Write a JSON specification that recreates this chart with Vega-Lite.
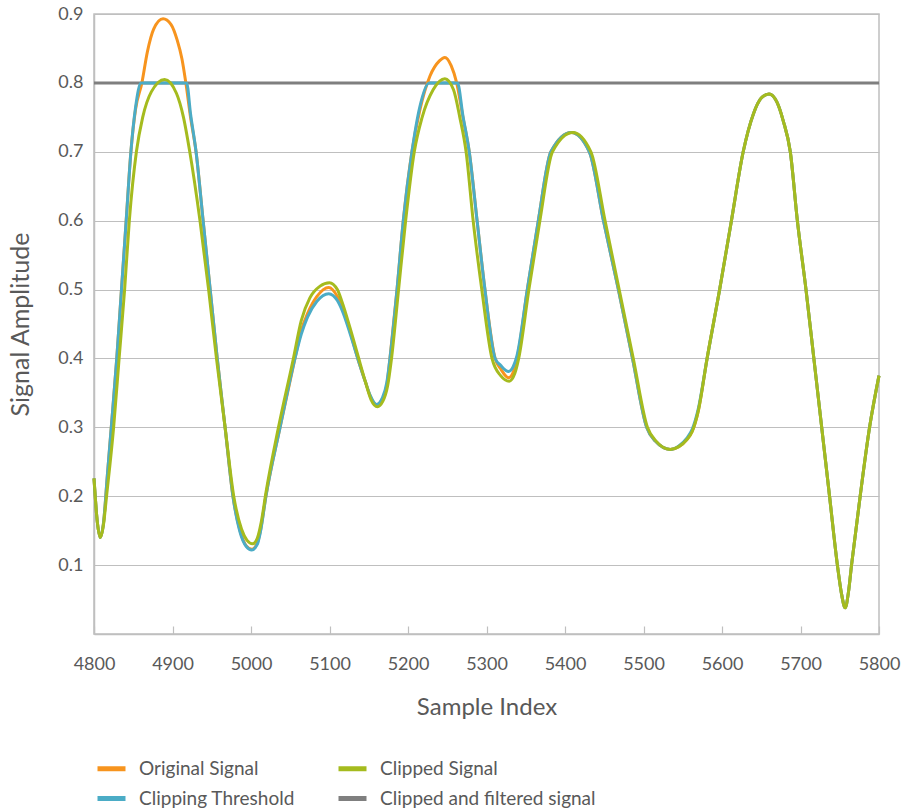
{
  "$schema": "https://vega.github.io/schema/vega-lite/v6.json",
  "autosize": {"type": "none"},
  "width": 785,
  "height": 620,
  "padding": {"left": 94, "top": 14, "right": 22, "bottom": 177},
  "background": "white",
  "config": {
    "font": "Lato",
    "view": {"stroke": "#BFBFBF", "strokeWidth": 1.5},
    "axis": {"labelFont": "Lato", "titleFont": "Lato", "labelColor": "#595959", "titleColor": "#595959", "labelFontSize": 18, "titleFontSize": 24, "titleFontWeight": "normal", "domainColor": "#BFBFBF", "domainWidth": 1.5, "gridColor": "#BFBFBF", "gridWidth": 1.2, "tickColor": "#BFBFBF"},
    "legend": {"labelFont": "Lato", "labelColor": "#595959", "labelFontSize": 19, "labelLimit": 400}
  },
  "data": {"values": [
    {"s":"Clipped and filtered signal","i":4800,"v":0.8},
    {"s":"Clipped and filtered signal","i":5800,"v":0.8},

    {"s":"Original Signal","i":4800,"v":0.226},
    {"s":"Original Signal","i":4804,"v":0.165},
    {"s":"Original Signal","i":4808,"v":0.140},
    {"s":"Original Signal","i":4812,"v":0.160},
    {"s":"Original Signal","i":4817,"v":0.230},
    {"s":"Original Signal","i":4822,"v":0.300},
    {"s":"Original Signal","i":4829,"v":0.400},
    {"s":"Original Signal","i":4835,"v":0.500},
    {"s":"Original Signal","i":4841,"v":0.600},
    {"s":"Original Signal","i":4847,"v":0.700},
    {"s":"Original Signal","i":4853,"v":0.762},
    {"s":"Original Signal","i":4861,"v":0.800},
    {"s":"Original Signal","i":4868,"v":0.845},
    {"s":"Original Signal","i":4876,"v":0.878},
    {"s":"Original Signal","i":4888,"v":0.893},
    {"s":"Original Signal","i":4898,"v":0.885},
    {"s":"Original Signal","i":4906,"v":0.862},
    {"s":"Original Signal","i":4912,"v":0.835},
    {"s":"Original Signal","i":4917,"v":0.800},
    {"s":"Original Signal","i":4923,"v":0.750},
    {"s":"Original Signal","i":4930,"v":0.700},
    {"s":"Original Signal","i":4939,"v":0.600},
    {"s":"Original Signal","i":4948,"v":0.500},
    {"s":"Original Signal","i":4957,"v":0.400},
    {"s":"Original Signal","i":4967,"v":0.300},
    {"s":"Original Signal","i":4977,"v":0.200},
    {"s":"Original Signal","i":4986,"v":0.150},
    {"s":"Original Signal","i":4994,"v":0.128},
    {"s":"Original Signal","i":5001,"v":0.123},
    {"s":"Original Signal","i":5008,"v":0.132},
    {"s":"Original Signal","i":5012,"v":0.150},
    {"s":"Original Signal","i":5019,"v":0.200},
    {"s":"Original Signal","i":5037,"v":0.300},
    {"s":"Original Signal","i":5056,"v":0.400},
    {"s":"Original Signal","i":5064,"v":0.440},
    {"s":"Original Signal","i":5072,"v":0.465},
    {"s":"Original Signal","i":5084,"v":0.490},
    {"s":"Original Signal","i":5099,"v":0.503},
    {"s":"Original Signal","i":5110,"v":0.490},
    {"s":"Original Signal","i":5116,"v":0.475},
    {"s":"Original Signal","i":5126,"v":0.440},
    {"s":"Original Signal","i":5136,"v":0.400},
    {"s":"Original Signal","i":5146,"v":0.365},
    {"s":"Original Signal","i":5152,"v":0.345},
    {"s":"Original Signal","i":5160,"v":0.333},
    {"s":"Original Signal","i":5167,"v":0.340},
    {"s":"Original Signal","i":5173,"v":0.361},
    {"s":"Original Signal","i":5177,"v":0.400},
    {"s":"Original Signal","i":5186,"v":0.500},
    {"s":"Original Signal","i":5194,"v":0.600},
    {"s":"Original Signal","i":5205,"v":0.700},
    {"s":"Original Signal","i":5215,"v":0.760},
    {"s":"Original Signal","i":5228,"v":0.810},
    {"s":"Original Signal","i":5240,"v":0.832},
    {"s":"Original Signal","i":5247,"v":0.837},
    {"s":"Original Signal","i":5255,"v":0.825},
    {"s":"Original Signal","i":5262,"v":0.800},
    {"s":"Original Signal","i":5270,"v":0.750},
    {"s":"Original Signal","i":5278,"v":0.700},
    {"s":"Original Signal","i":5288,"v":0.600},
    {"s":"Original Signal","i":5298,"v":0.500},
    {"s":"Original Signal","i":5311,"v":0.400},
    {"s":"Original Signal","i":5318,"v":0.385},
    {"s":"Original Signal","i":5328,"v":0.372},
    {"s":"Original Signal","i":5334,"v":0.380},
    {"s":"Original Signal","i":5339,"v":0.400},
    {"s":"Original Signal","i":5352,"v":0.500},
    {"s":"Original Signal","i":5366,"v":0.600},
    {"s":"Original Signal","i":5382,"v":0.700},
    {"s":"Original Signal","i":5408,"v":0.728},
    {"s":"Original Signal","i":5431,"v":0.700},
    {"s":"Original Signal","i":5449,"v":0.600},
    {"s":"Original Signal","i":5468,"v":0.500},
    {"s":"Original Signal","i":5486,"v":0.400},
    {"s":"Original Signal","i":5504,"v":0.300},
    {"s":"Original Signal","i":5515,"v":0.280},
    {"s":"Original Signal","i":5534,"v":0.268},
    {"s":"Original Signal","i":5545,"v":0.272},
    {"s":"Original Signal","i":5555,"v":0.282},
    {"s":"Original Signal","i":5562,"v":0.294},
    {"s":"Original Signal","i":5570,"v":0.325},
    {"s":"Original Signal","i":5581,"v":0.400},
    {"s":"Original Signal","i":5597,"v":0.500},
    {"s":"Original Signal","i":5612,"v":0.600},
    {"s":"Original Signal","i":5627,"v":0.700},
    {"s":"Original Signal","i":5640,"v":0.755},
    {"s":"Original Signal","i":5650,"v":0.778},
    {"s":"Original Signal","i":5660,"v":0.784},
    {"s":"Original Signal","i":5670,"v":0.772},
    {"s":"Original Signal","i":5678,"v":0.745},
    {"s":"Original Signal","i":5687,"v":0.700},
    {"s":"Original Signal","i":5696,"v":0.600},
    {"s":"Original Signal","i":5707,"v":0.500},
    {"s":"Original Signal","i":5717,"v":0.400},
    {"s":"Original Signal","i":5727,"v":0.300},
    {"s":"Original Signal","i":5737,"v":0.200},
    {"s":"Original Signal","i":5747,"v":0.100},
    {"s":"Original Signal","i":5752,"v":0.060},
    {"s":"Original Signal","i":5757,"v":0.038},
    {"s":"Original Signal","i":5761,"v":0.060},
    {"s":"Original Signal","i":5765,"v":0.100},
    {"s":"Original Signal","i":5776,"v":0.200},
    {"s":"Original Signal","i":5788,"v":0.300},
    {"s":"Original Signal","i":5800,"v":0.375},

    {"s":"Clipping Threshold","i":4800,"v":0.226},
    {"s":"Clipping Threshold","i":4804,"v":0.165},
    {"s":"Clipping Threshold","i":4808,"v":0.140},
    {"s":"Clipping Threshold","i":4812,"v":0.160},
    {"s":"Clipping Threshold","i":4817,"v":0.230},
    {"s":"Clipping Threshold","i":4822,"v":0.300},
    {"s":"Clipping Threshold","i":4829,"v":0.400},
    {"s":"Clipping Threshold","i":4835,"v":0.500},
    {"s":"Clipping Threshold","i":4841,"v":0.600},
    {"s":"Clipping Threshold","i":4847,"v":0.700},
    {"s":"Clipping Threshold","i":4853,"v":0.765},
    {"s":"Clipping Threshold","i":4860,"v":0.800},
    {"s":"Clipping Threshold","i":4918,"v":0.800},
    {"s":"Clipping Threshold","i":4923,"v":0.755},
    {"s":"Clipping Threshold","i":4930,"v":0.700},
    {"s":"Clipping Threshold","i":4939,"v":0.600},
    {"s":"Clipping Threshold","i":4948,"v":0.500},
    {"s":"Clipping Threshold","i":4957,"v":0.400},
    {"s":"Clipping Threshold","i":4967,"v":0.300},
    {"s":"Clipping Threshold","i":4977,"v":0.200},
    {"s":"Clipping Threshold","i":4986,"v":0.148},
    {"s":"Clipping Threshold","i":4994,"v":0.127},
    {"s":"Clipping Threshold","i":5001,"v":0.122},
    {"s":"Clipping Threshold","i":5008,"v":0.130},
    {"s":"Clipping Threshold","i":5012,"v":0.148},
    {"s":"Clipping Threshold","i":5019,"v":0.200},
    {"s":"Clipping Threshold","i":5037,"v":0.300},
    {"s":"Clipping Threshold","i":5056,"v":0.400},
    {"s":"Clipping Threshold","i":5064,"v":0.435},
    {"s":"Clipping Threshold","i":5072,"v":0.460},
    {"s":"Clipping Threshold","i":5084,"v":0.483},
    {"s":"Clipping Threshold","i":5099,"v":0.494},
    {"s":"Clipping Threshold","i":5110,"v":0.484},
    {"s":"Clipping Threshold","i":5116,"v":0.470},
    {"s":"Clipping Threshold","i":5126,"v":0.437},
    {"s":"Clipping Threshold","i":5136,"v":0.400},
    {"s":"Clipping Threshold","i":5146,"v":0.365},
    {"s":"Clipping Threshold","i":5152,"v":0.346},
    {"s":"Clipping Threshold","i":5160,"v":0.333},
    {"s":"Clipping Threshold","i":5167,"v":0.342},
    {"s":"Clipping Threshold","i":5173,"v":0.365},
    {"s":"Clipping Threshold","i":5177,"v":0.400},
    {"s":"Clipping Threshold","i":5186,"v":0.500},
    {"s":"Clipping Threshold","i":5194,"v":0.600},
    {"s":"Clipping Threshold","i":5205,"v":0.700},
    {"s":"Clipping Threshold","i":5215,"v":0.765},
    {"s":"Clipping Threshold","i":5227,"v":0.800},
    {"s":"Clipping Threshold","i":5263,"v":0.800},
    {"s":"Clipping Threshold","i":5270,"v":0.752},
    {"s":"Clipping Threshold","i":5278,"v":0.700},
    {"s":"Clipping Threshold","i":5288,"v":0.600},
    {"s":"Clipping Threshold","i":5298,"v":0.500},
    {"s":"Clipping Threshold","i":5311,"v":0.400},
    {"s":"Clipping Threshold","i":5318,"v":0.390},
    {"s":"Clipping Threshold","i":5328,"v":0.381},
    {"s":"Clipping Threshold","i":5334,"v":0.388},
    {"s":"Clipping Threshold","i":5339,"v":0.405},
    {"s":"Clipping Threshold","i":5352,"v":0.500},
    {"s":"Clipping Threshold","i":5366,"v":0.600},
    {"s":"Clipping Threshold","i":5382,"v":0.700},
    {"s":"Clipping Threshold","i":5408,"v":0.728},
    {"s":"Clipping Threshold","i":5431,"v":0.700},
    {"s":"Clipping Threshold","i":5449,"v":0.600},
    {"s":"Clipping Threshold","i":5468,"v":0.500},
    {"s":"Clipping Threshold","i":5486,"v":0.400},
    {"s":"Clipping Threshold","i":5504,"v":0.300},
    {"s":"Clipping Threshold","i":5515,"v":0.280},
    {"s":"Clipping Threshold","i":5534,"v":0.268},
    {"s":"Clipping Threshold","i":5545,"v":0.273},
    {"s":"Clipping Threshold","i":5555,"v":0.284},
    {"s":"Clipping Threshold","i":5562,"v":0.297},
    {"s":"Clipping Threshold","i":5570,"v":0.328},
    {"s":"Clipping Threshold","i":5581,"v":0.400},
    {"s":"Clipping Threshold","i":5597,"v":0.500},
    {"s":"Clipping Threshold","i":5612,"v":0.600},
    {"s":"Clipping Threshold","i":5627,"v":0.700},
    {"s":"Clipping Threshold","i":5640,"v":0.755},
    {"s":"Clipping Threshold","i":5650,"v":0.778},
    {"s":"Clipping Threshold","i":5660,"v":0.784},
    {"s":"Clipping Threshold","i":5670,"v":0.772},
    {"s":"Clipping Threshold","i":5678,"v":0.745},
    {"s":"Clipping Threshold","i":5687,"v":0.700},
    {"s":"Clipping Threshold","i":5696,"v":0.600},
    {"s":"Clipping Threshold","i":5707,"v":0.500},
    {"s":"Clipping Threshold","i":5717,"v":0.400},
    {"s":"Clipping Threshold","i":5727,"v":0.300},
    {"s":"Clipping Threshold","i":5737,"v":0.200},
    {"s":"Clipping Threshold","i":5747,"v":0.100},
    {"s":"Clipping Threshold","i":5752,"v":0.060},
    {"s":"Clipping Threshold","i":5757,"v":0.038},
    {"s":"Clipping Threshold","i":5761,"v":0.060},
    {"s":"Clipping Threshold","i":5765,"v":0.100},
    {"s":"Clipping Threshold","i":5776,"v":0.200},
    {"s":"Clipping Threshold","i":5788,"v":0.300},
    {"s":"Clipping Threshold","i":5800,"v":0.375},

    {"s":"Clipped Signal","i":4800,"v":0.226},
    {"s":"Clipped Signal","i":4804,"v":0.165},
    {"s":"Clipped Signal","i":4808,"v":0.140},
    {"s":"Clipped Signal","i":4812,"v":0.158},
    {"s":"Clipped Signal","i":4816,"v":0.200},
    {"s":"Clipped Signal","i":4825,"v":0.300},
    {"s":"Clipped Signal","i":4832,"v":0.400},
    {"s":"Clipped Signal","i":4839,"v":0.500},
    {"s":"Clipped Signal","i":4845,"v":0.600},
    {"s":"Clipped Signal","i":4854,"v":0.700},
    {"s":"Clipped Signal","i":4862,"v":0.750},
    {"s":"Clipped Signal","i":4873,"v":0.787},
    {"s":"Clipped Signal","i":4890,"v":0.805},
    {"s":"Clipped Signal","i":4905,"v":0.785},
    {"s":"Clipped Signal","i":4914,"v":0.750},
    {"s":"Clipped Signal","i":4922,"v":0.700},
    {"s":"Clipped Signal","i":4935,"v":0.600},
    {"s":"Clipped Signal","i":4946,"v":0.500},
    {"s":"Clipped Signal","i":4956,"v":0.400},
    {"s":"Clipped Signal","i":4967,"v":0.300},
    {"s":"Clipped Signal","i":4978,"v":0.200},
    {"s":"Clipped Signal","i":4988,"v":0.152},
    {"s":"Clipped Signal","i":4995,"v":0.136},
    {"s":"Clipped Signal","i":5002,"v":0.131},
    {"s":"Clipped Signal","i":5008,"v":0.139},
    {"s":"Clipped Signal","i":5013,"v":0.162},
    {"s":"Clipped Signal","i":5019,"v":0.205},
    {"s":"Clipped Signal","i":5035,"v":0.300},
    {"s":"Clipped Signal","i":5054,"v":0.400},
    {"s":"Clipped Signal","i":5064,"v":0.455},
    {"s":"Clipped Signal","i":5075,"v":0.488},
    {"s":"Clipped Signal","i":5088,"v":0.505},
    {"s":"Clipped Signal","i":5100,"v":0.510},
    {"s":"Clipped Signal","i":5110,"v":0.500},
    {"s":"Clipped Signal","i":5116,"v":0.482},
    {"s":"Clipped Signal","i":5126,"v":0.445},
    {"s":"Clipped Signal","i":5136,"v":0.405},
    {"s":"Clipped Signal","i":5146,"v":0.365},
    {"s":"Clipped Signal","i":5153,"v":0.340},
    {"s":"Clipped Signal","i":5161,"v":0.330},
    {"s":"Clipped Signal","i":5168,"v":0.338},
    {"s":"Clipped Signal","i":5174,"v":0.360},
    {"s":"Clipped Signal","i":5179,"v":0.400},
    {"s":"Clipped Signal","i":5188,"v":0.500},
    {"s":"Clipped Signal","i":5197,"v":0.600},
    {"s":"Clipped Signal","i":5208,"v":0.700},
    {"s":"Clipped Signal","i":5218,"v":0.750},
    {"s":"Clipped Signal","i":5232,"v":0.790},
    {"s":"Clipped Signal","i":5247,"v":0.806},
    {"s":"Clipped Signal","i":5258,"v":0.790},
    {"s":"Clipped Signal","i":5266,"v":0.750},
    {"s":"Clipped Signal","i":5274,"v":0.700},
    {"s":"Clipped Signal","i":5283,"v":0.600},
    {"s":"Clipped Signal","i":5294,"v":0.500},
    {"s":"Clipped Signal","i":5307,"v":0.400},
    {"s":"Clipped Signal","i":5318,"v":0.375},
    {"s":"Clipped Signal","i":5329,"v":0.367},
    {"s":"Clipped Signal","i":5336,"v":0.378},
    {"s":"Clipped Signal","i":5341,"v":0.400},
    {"s":"Clipped Signal","i":5354,"v":0.500},
    {"s":"Clipped Signal","i":5368,"v":0.600},
    {"s":"Clipped Signal","i":5384,"v":0.700},
    {"s":"Clipped Signal","i":5410,"v":0.728},
    {"s":"Clipped Signal","i":5433,"v":0.700},
    {"s":"Clipped Signal","i":5451,"v":0.600},
    {"s":"Clipped Signal","i":5469,"v":0.500},
    {"s":"Clipped Signal","i":5487,"v":0.400},
    {"s":"Clipped Signal","i":5505,"v":0.300},
    {"s":"Clipped Signal","i":5516,"v":0.280},
    {"s":"Clipped Signal","i":5534,"v":0.268},
    {"s":"Clipped Signal","i":5545,"v":0.272},
    {"s":"Clipped Signal","i":5555,"v":0.282},
    {"s":"Clipped Signal","i":5562,"v":0.294},
    {"s":"Clipped Signal","i":5570,"v":0.325},
    {"s":"Clipped Signal","i":5581,"v":0.400},
    {"s":"Clipped Signal","i":5597,"v":0.500},
    {"s":"Clipped Signal","i":5612,"v":0.600},
    {"s":"Clipped Signal","i":5627,"v":0.700},
    {"s":"Clipped Signal","i":5640,"v":0.755},
    {"s":"Clipped Signal","i":5650,"v":0.778},
    {"s":"Clipped Signal","i":5660,"v":0.784},
    {"s":"Clipped Signal","i":5670,"v":0.772},
    {"s":"Clipped Signal","i":5678,"v":0.745},
    {"s":"Clipped Signal","i":5687,"v":0.700},
    {"s":"Clipped Signal","i":5696,"v":0.600},
    {"s":"Clipped Signal","i":5707,"v":0.500},
    {"s":"Clipped Signal","i":5717,"v":0.400},
    {"s":"Clipped Signal","i":5727,"v":0.300},
    {"s":"Clipped Signal","i":5737,"v":0.200},
    {"s":"Clipped Signal","i":5747,"v":0.100},
    {"s":"Clipped Signal","i":5752,"v":0.060},
    {"s":"Clipped Signal","i":5757,"v":0.038},
    {"s":"Clipped Signal","i":5761,"v":0.060},
    {"s":"Clipped Signal","i":5765,"v":0.100},
    {"s":"Clipped Signal","i":5776,"v":0.200},
    {"s":"Clipped Signal","i":5788,"v":0.300},
    {"s":"Clipped Signal","i":5800,"v":0.375}
  ]},
  "encoding": {
    "x": {"field": "i", "type": "quantitative", "title": "Sample Index",
      "scale": {"domain": [4800, 5800], "nice": false, "zero": false},
      "axis": {"values": [4800,4900,5000,5100,5200,5300,5400,5500,5600,5700,5800], "format": "d", "grid": false, "tickSize": -8, "tickWidth": 1.2, "labelPadding": 29, "labelFlush": false, "labelOverlap": false, "titlePadding": 22}},
    "y": {"field": "v", "type": "quantitative", "title": "Signal Amplitude",
      "scale": {"domain": [0, 0.9], "nice": false},
      "axis": {"values": [0.1,0.2,0.3,0.4,0.5,0.6,0.7,0.8,0.9], "format": ".1f", "grid": true, "ticks": false, "labelPadding": 11, "titlePadding": 24, "titleFontSize": 25}},
    "color": {"field": "s", "type": "nominal",
      "scale": {"domain": ["Original Signal", "Clipping Threshold", "Clipped Signal", "Clipped and filtered signal"], "range": ["#F7941E", "#4BACC6", "#A5BB1E", "#7F7F7F"]},
      "legend": {"title": null, "orient": "none", "legendX": 1, "legendY": 738, "columns": 2, "symbolType": "stroke", "symbolSize": 784, "symbolStrokeWidth": 5, "labelOffset": 11, "rowPadding": 3, "columnPadding": 33, "padding": 0}}
  },
  "layer": [
    {"transform": [{"filter": "datum.s === 'Clipped and filtered signal'"}], "mark": {"type": "line", "strokeWidth": 3}},
    {"transform": [{"filter": "datum.s === 'Original Signal'"}], "mark": {"type": "line", "strokeWidth": 3, "interpolate": "monotone"}},
    {"transform": [{"filter": "datum.s === 'Clipping Threshold'"}], "mark": {"type": "line", "strokeWidth": 3, "interpolate": "monotone"}},
    {"transform": [{"filter": "datum.s === 'Clipped Signal'"}], "mark": {"type": "line", "strokeWidth": 3, "interpolate": "monotone"}}
  ]
}
